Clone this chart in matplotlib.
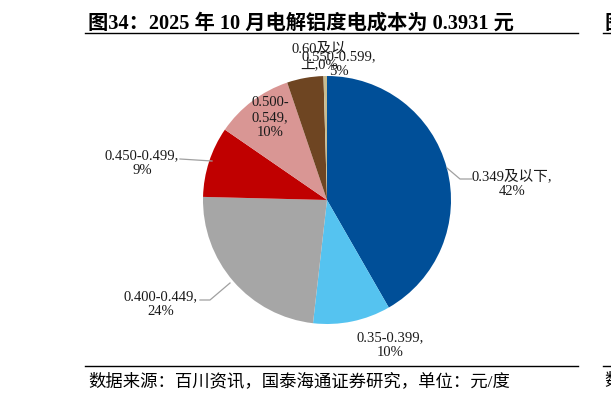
import matplotlib.pyplot as plt

plt.rcParams['font.family'] = ['Liberation Serif', 'Noto Sans CJK SC']

# data (share of capacity by cost band, %)
bands = ['0.349及以下', '0.35-0.399', '0.400-0.449', '0.450-0.499',
         '0.500-0.549', '0.550-0.599', '0.60及以上']
shares = [41.7, 10.1, 23.6, 9.2, 10.2, 4.75, 0.45]
colors = ['#004F98', '#55C3F0', '#A6A6A6', '#C00000', '#D99694', '#6E4522', '#C8BC90']

title = '图34：2025 年 10 月电解铝度电成本为 0.3931 元'
source = '数据来源：百川资讯，国泰海通证券研究，单位：元/度'

W, H = 611, 398
fig = plt.figure(figsize=(W / 100, H / 100), dpi=100)
ax = fig.add_axes([0, 0, 1, 1])

cx, cy, r = 327, H - 200, 124
ax.pie(shares, colors=colors, startangle=90, counterclock=False,
       center=(cx, cy), radius=r, wedgeprops=dict(linewidth=0))
ax.set_xlim(0, W)
ax.set_ylim(0, H)
ax.set_aspect('equal')
ax.axis('off')


def pct(v):
    return '%d%%' % int(v + 0.5)


fs = 10.5
# label positions (pixel coords from the top left) and leader lines
lab = [
    (512, 184, bands[0] + ',\n' + pct(shares[0]), [(447, 168), (460, 179), (472, 179)]),
    (390, 345, bands[1] + ',\n' + pct(shares[1]), None),
    (161, 304, bands[2] + ',\n' + pct(shares[2]), [(230, 283), (210, 300), (200, 300)]),
    (142, 163, bands[3] + ',\n' + pct(shares[3]), [(212, 161), (180, 159)]),
    (270, 118, '0.500-\n0.549,\n' + pct(shares[4]), None),
    (339, 64, bands[5] + ',\n' + pct(shares[5]), None),
    (319, 57, '0.60及以\n上,' + pct(shares[6]), None),
]
for x, y, t, line in lab:
    ax.text(x, H - y, t, ha='center', va='center', fontsize=fs,
            linespacing=1.2, color='#1a1a1a')
    if line:
        ax.plot([p[0] for p in line], [H - p[1] for p in line],
                color='#A0A0A0', lw=0.9)

# title, footer and rules
fig.text(88 / W, 1 - 29 / H, title, fontsize=14.6, fontweight='bold',
         ha='left', va='baseline')
ax.plot([85, 578], [H - 33, H - 33], color='black', lw=1)
ax.plot([85, 578], [H - 366, H - 366], color='black', lw=1)
ax.plot([603, 611], [H - 33, H - 33], color='black', lw=1)
ax.plot([603, 611], [H - 366, H - 366], color='black', lw=1)
fig.text(88 / W, 1 - 386 / H, source, fontsize=12.5, ha='left', va='baseline')
fig.text(604 / W, 1 - 29 / H, '图', fontsize=14.6, fontweight='bold',
         ha='left', va='baseline')
fig.text(604 / W, 1 - 386 / H, '数', fontsize=12.5, ha='left', va='baseline')

fig.savefig('out.png', dpi=100)
